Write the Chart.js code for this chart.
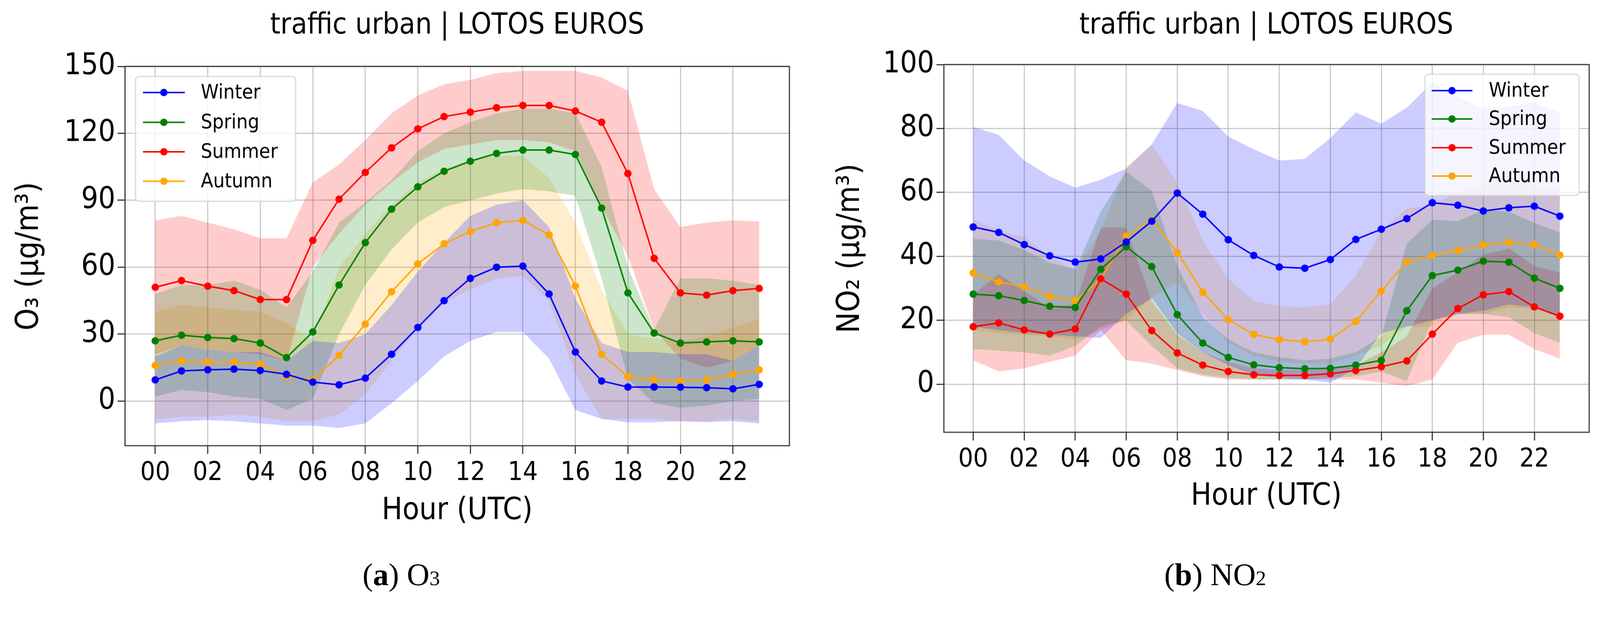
<!DOCTYPE html>
<html><head><meta charset="utf-8">
<script src="https://cdn.jsdelivr.net/npm/chart.js@4"></script>
<style>
html,body{margin:0;padding:0;background:#fff;overflow:hidden;}
#wrap{position:absolute;left:0;top:0;width:4287px;height:1596px;overflow:hidden;background:#fff;font-family:"DejaVu Sans Condensed","DejaVu Sans",sans-serif;transform-origin:0 0;}
canvas{position:absolute;top:0;}
.t{position:absolute;white-space:nowrap;transform:translate(-50%,-50%);color:#000;}
.yl{transform:translate(-50%,-50%) rotate(-90deg);}
.cap{font-family:"Liberation Serif","Times New Roman",serif;font-size:84px;}
</style></head><body>
<div id="wrap">
<canvas id="c1" width="2143" height="1596" style="left:0"></canvas>
<canvas id="c2" width="2144" height="1596" style="left:2143px"></canvas>
<div class="t" style="left:1225px;top:63px;font-size:78px">traffic urban | LOTOS EUROS</div>
<div class="t" style="left:3393px;top:63px;font-size:78px">traffic urban | LOTOS EUROS</div>
<div class="t" style="left:1225px;top:1364px;font-size:82px">Hour (UTC)</div>
<div class="t" style="left:3393px;top:1325px;font-size:82px">Hour (UTC)</div>
<div class="t yl" style="left:72px;top:687px;font-size:84px">O₃ (μg/m³)</div>
<div class="t yl" style="left:2272px;top:666px;font-size:84px">NO₂ (μg/m³)</div>
<div class="t cap" style="left:1075px;top:1540px">(<b>a</b>) O<span style="font-size:56px">3</span></div>
<div class="t cap" style="left:3256px;top:1540px">(<b>b</b>) NO<span style="font-size:56px">2</span></div>
</div>
<script>
(function(){const w=document.getElementById('wrap');
  const s=Math.min(window.innerWidth/4287,window.innerHeight/1596);
  if(s>0&&Math.abs(s-1)>0.001)w.style.transform='scale('+s+')';})();
const hours=[0,1,2,3,4,5,6,7,8,9,10,11,12,13,14,15,16,17,18,19,20,21,22,23];
const seasons=["Winter","Spring","Summer","Autumn"];
const xTicks=[0,2,4,6,8,10,12,14,16,18,20,22];
const o3Ticks=[0,30,60,90,120,150];
const no2Ticks=[0,20,40,60,80,100];
// O3
const o3WinterMean=[9.5,13.5,14,14.3,13.7,12,8.5,7.3,10.3,21,33,45,55,60,60.5,48,22,9,6.3,6.3,6.2,6,5.5,7.5];
const o3WinterUp=[20,25,23,22,22,18,27,26,30,43,58,71,83,88,90,78,46,26,22,22,21,21,18,25];
const o3WinterLo=[-10,-9,-8.5,-9,-10,-11,-11,-12,-10,-1,9,20,27,31,31,19,-4,-8,-9.5,-9.5,-9,-9.5,-9,-10];
const o3SpringMean=[27,29.5,28.5,28,26,19.5,31,52,71,86,96,103,107.5,111,112.5,112.5,110.5,86.5,48.5,30.5,26,26.5,27,26.5];
const o3SpringUp=[48,52,52,54,50,42,58,80,89,99,112,120,125,129,131,131,129,105,60,32,55,55,54,52];
const o3SpringLo=[2,5,4,2,1,-4,1,30,52,68,80,87,90,93,95,94,92,55,10,-1,-3,-2,0,1];
const o3SummerMean=[51,54,51.5,49.5,45.5,45.5,72,90.5,102.5,113.5,122,127.5,129.5,131.5,132.5,132.5,130,125,102,64,48.5,47.5,49.5,50.5];
const o3SummerUp=[81,83,80,77,73,73,98,106,117,129,137,142,144,147,148,148,148,145,139,95,78,80,81,80.5];
const o3SummerLo=[21,25,23,22,21,18,60,75,88,98,107,113,115,117,117,116,112,87,65,32,19,15,18,25];
const o3AutumnMean=[16,18,17.5,17.5,16.5,11,9.5,20.5,34.5,49,61.5,70.5,76,80,81,74.5,51.5,21,11,9.5,9,9.5,12,14];
const o3AutumnUp=[40,43,42,41,40,35,27,60,75,88,98,104,108,110,110,100,80,50,30,28,27,29,33,37];
const o3AutumnLo=[-8,-7,-7,-6,-7,-9,-9,-6,3,18,33,44,50,55,56,45,12,-8,-8,-8,-9,-9,-8,-9];
// NO2
const no2WinterMean=[49.2,47.5,43.7,40.2,38.2,39.2,44.5,51,59.8,53.2,45.2,40.3,36.7,36.3,39,45.3,48.5,51.8,56.8,56,54.2,55.2,55.7,52.6];
const no2WinterUp=[80.5,78,70,65,61.5,64,67.5,75,88,85.5,77.5,73.5,70,70.5,77,85,81.5,86.5,94.5,90,86,87,88,85];
const no2WinterLo=[18,17,16,15.5,15,14.5,22,27,16,10,6,3,2,1.5,0.5,5,16,18,20,22,23,25,24,21];
const no2SpringMean=[28.2,27.7,26.2,24.4,24,36,43,36.8,21.8,12.9,8.4,6.1,5.2,4.9,5,6,7.5,23,34,35.7,38.5,38.2,33.2,30];
const no2SpringUp=[45.5,45,42,38,36,54,66.5,60.5,37,21,14,10,8.5,7.5,8,10,15,44,51.5,51,54.5,54,50.5,47.5];
const no2SpringLo=[11,10.5,10,9,12,18,20,12,5,3,2,1.5,1.5,1.5,2,2.5,4,1,20,22,22,21,16,13];
const no2SummerMean=[18,19.2,17,15.7,17.3,33,28.2,16.8,9.8,6,4,3,2.8,2.8,3.3,4.3,5.5,7.3,15.7,23.7,28,29,24.2,21.3];
const no2SummerUp=[28,34.5,29,24,25,49,49,26,15.5,10,7,5,4.5,4.5,5,6,10,15,30,35,40.5,42.5,37,35];
const no2SummerLo=[7.5,4,5,7,9,17,7.5,6.5,4.5,2.5,1.5,1.5,1.5,1.5,1.5,1.5,0.5,-0.5,1.5,13,15.5,15.5,11,8];
const no2AutumnMean=[34.8,32,30.5,27.5,26.2,32.8,46.3,51.5,41.2,28.8,20.2,15.6,14,13.3,14.1,19.7,29.2,38.3,40.3,41.8,43.6,44.4,43.7,40.4];
const no2AutumnUp=[51.5,48,46,40,36,48,68,75,63,45,33,26,24.5,24,25,34,48,55,56,60,63,64,62,61];
const no2AutumnLo=[17,16,15.5,15,14,17,20,27,32,22,13,9,7,6.5,6.5,9,12,18,18,22,22,24,23.5,22];

const colors=["#0000ff","#008000","#ff0000","#ffa500"];
const fills=["rgba(0,0,255,0.2)","rgba(0,128,0,0.2)","rgba(255,0,0,0.2)","rgba(255,165,0,0.2)"];
const pts=a=>a.map((v,i)=>({x:hours[i],y:v}));

function build(id,canvasLeft,canvasW,area,ymin,ymax,yTicks,series,leg){
  const ds=[];
  series.forEach((s,i)=>{
    ds.push({label:'lo'+i,data:pts(s[2]),borderWidth:0,pointRadius:0,fill:false,order:5});
    ds.push({label:'up'+i,data:pts(s[1]),borderWidth:0,pointRadius:0,backgroundColor:fills[i],fill:'-1',order:5});
  });
  series.forEach((s,i)=>{
    ds.push({label:seasons[i],data:pts(s[0]),borderColor:colors[i],backgroundColor:colors[i],borderWidth:4,pointRadius:10,pointBorderWidth:0,fill:false,order:0});
  });
  const legendPlugin={id:'lg',afterDraw(c){
    const x=c.ctx;x.save();
    const [bx,by,bw,bh]=leg.box;
    x.fillStyle='rgba(255,255,255,0.8)';x.strokeStyle='#d8d8d8';x.lineWidth=3;
    x.beginPath();x.roundRect(bx-canvasLeft,by,bw,bh,10);x.fill();x.stroke();
    seasons.forEach((s,i)=>{
      const y=leg.rows[i];
      x.strokeStyle=colors[i];x.lineWidth=4;
      x.beginPath();x.moveTo(leg.l0-canvasLeft,y);x.lineTo(leg.l1-canvasLeft,y);x.stroke();
      x.fillStyle=colors[i];x.beginPath();x.arc((leg.l0+leg.l1)/2-canvasLeft,y,10,0,Math.PI*2);x.fill();
      x.fillStyle='#000';x.font='54px "DejaVu Sans Condensed","DejaVu Sans"';x.textBaseline='middle';
      x.fillText(s,leg.tx-canvasLeft,y+2);
    });
    x.restore();
  }};
  const borderPlugin={id:'bd',afterDatasetsDraw(c){const a=c.chartArea,x=c.ctx;x.save();x.strokeStyle='#333';x.lineWidth=3;x.strokeRect(a.left,a.top,a.right-a.left,a.bottom-a.top);x.restore();}};
  new Chart(document.getElementById(id),{
    type:'line',
    data:{datasets:ds},
    plugins:[borderPlugin,legendPlugin],
    options:{responsive:false,animation:false,devicePixelRatio:1,
      layout:{padding:{left:0,top:area[2],right:canvasLeft+canvasW-area[1],bottom:0}},
      plugins:{legend:{display:false},tooltip:{enabled:false},title:{display:false}},
      scales:{
        x:{type:'linear',min:-1.15,max:24.15,
          afterFit(s){s.height=1596-area[3];},
          afterBuildTicks(s){s.ticks=xTicks.map(v=>({value:v}));},
          grid:{color:'rgba(176,176,176,0.7)',lineWidth:3,tickLength:22,tickColor:'#333'},
          border:{display:false},
          ticks:{color:'#000',font:{size:70,family:'"DejaVu Sans Condensed","DejaVu Sans"'},padding:10,maxRotation:0,autoSkip:false,
            callback:v=>String(v).padStart(2,'0')}},
        y:{min:ymin,max:ymax,
          afterFit(s){s.width=area[0]-canvasLeft;},
          afterBuildTicks(s){s.ticks=yTicks.map(v=>({value:v}));},
          grid:{color:'rgba(176,176,176,0.7)',lineWidth:3,tickLength:20,tickColor:'#333'},
          border:{display:false},
          ticks:{color:'#000',font:{size:80,family:'"DejaVu Sans Condensed","DejaVu Sans"'},padding:6}}
      }}
  });
}
build('c1',0,2143,[335,2115,178,1195],-20,150,o3Ticks,
  [[o3WinterMean,o3WinterUp,o3WinterLo],[o3SpringMean,o3SpringUp,o3SpringLo],[o3SummerMean,o3SummerUp,o3SummerLo],[o3AutumnMean,o3AutumnUp,o3AutumnLo]],
  {box:[363,205,429,335],rows:[248,328,407,486],l0:383,l1:495,tx:538});
build('c2',2143,2144,[2529,4258,173,1159],-15,100,no2Ticks,
  [[no2WinterMean,no2WinterUp,no2WinterLo],[no2SpringMean,no2SpringUp,no2SpringLo],[no2SummerMean,no2SummerUp,no2SummerLo],[no2AutumnMean,no2AutumnUp,no2AutumnLo]],
  {box:[3818,199,413,325],rows:[243,319,396,472],l0:3836,l1:3945,tx:3989});
</script></body></html>
